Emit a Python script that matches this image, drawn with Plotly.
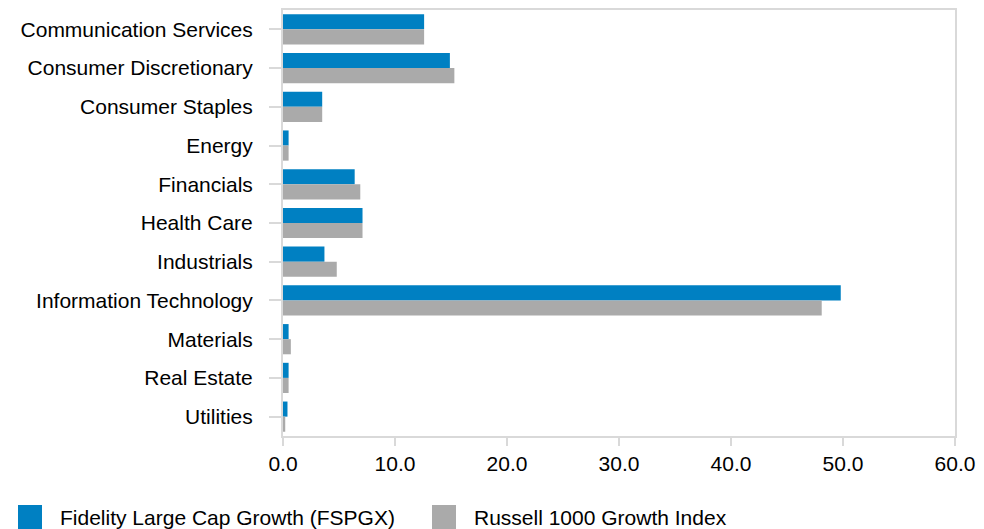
import plotly.graph_objects as go

categories = ["Communication Services", "Consumer Discretionary", "Consumer Staples", "Energy",
              "Financials", "Health Care", "Industrials", "Information Technology",
              "Materials", "Real Estate", "Utilities"]
fund_values = [12.6, 14.9, 3.5, 0.5, 6.4, 7.1, 3.7, 49.8, 0.5, 0.5, 0.4]
index_values = [12.6, 15.3, 3.5, 0.5, 6.9, 7.1, 4.8, 48.1, 0.7, 0.5, 0.2]
series_names = ["Fidelity Large Cap Growth (FSPGX)", "Russell 1000 Growth Index"]
colors = ["#0080C2", "#AAAAAA"]
x_ticks = [0, 10, 20, 30, 40, 50, 60]
x_tick_text = ["0.0", "10.0", "20.0", "30.0", "40.0", "50.0", "60.0"]

FONT = "Liberation Sans, Arial, sans-serif"
FS = 21

# page body has an 8px margin, so the figure is offset by 8px
OFF = 8
W, H = 984 - OFF, 529 - OFF
L, T = 283 - OFF, 10 - OFF
R = W - (955 - OFF)          # keep the "60.0" tick label inside the visible page
B = H - (436 - OFF)
PW, PH = W - L - R, H - T - B

fig = go.Figure()
fig.add_trace(go.Bar(y=categories, x=fund_values, orientation="h", name=series_names[0],
                     marker=dict(color=colors[0], line=dict(width=0)), showlegend=False))
fig.add_trace(go.Bar(y=categories, x=index_values, orientation="h", name=series_names[1],
                     marker=dict(color=colors[1], line=dict(width=0)), showlegend=False))

fig.update_layout(
    width=W, height=H,
    margin=dict(l=L, r=R, t=T, b=B, autoexpand=False),
    barmode="group", bargap=0.22, bargroupgap=0,
    plot_bgcolor="white", paper_bgcolor="white",
    font=dict(family=FONT, size=FS, color="#000000"),
)
fig.update_yaxes(
    autorange="reversed", showgrid=False, ticks="outside", ticklen=12, tickwidth=2,
    tickcolor="#D9D9D9", showline=True, linecolor="#D9D9D9", linewidth=2, mirror=True,
    ticklabelstandoff=12, tickfont=dict(size=FS), automargin=False,
)
fig.update_xaxes(
    range=[0, 60], tickvals=x_ticks, ticktext=x_tick_text, showgrid=False,
    ticks="outside", ticklen=8, tickwidth=2, tickcolor="#D9D9D9",
    showline=True, linecolor="#D9D9D9", linewidth=2, mirror=True, zeroline=False,
    tickfont=dict(size=FS), automargin=False,
)

# Legend drawn at the bottom (reference pixel positions converted to paper coords)
def px_x(x):
    return (x - OFF - L) / PW

def px_y(y):
    return (H - B - (y - OFF)) / PH

legend_x = [18, 432]
for i, name in enumerate(series_names):
    x0 = legend_x[i]
    fig.add_shape(type="rect", xref="paper", yref="paper",
                  x0=px_x(x0), x1=px_x(x0 + 24), y0=px_y(529), y1=px_y(505),
                  fillcolor=colors[i], line=dict(width=0))
    fig.add_annotation(xref="paper", yref="paper", x=px_x(x0 + 40), y=px_y(517),
                       text=name, showarrow=False, xanchor="left", yanchor="middle",
                       font=dict(size=FS, color="#000000"))

fig.write_html("out.html")
